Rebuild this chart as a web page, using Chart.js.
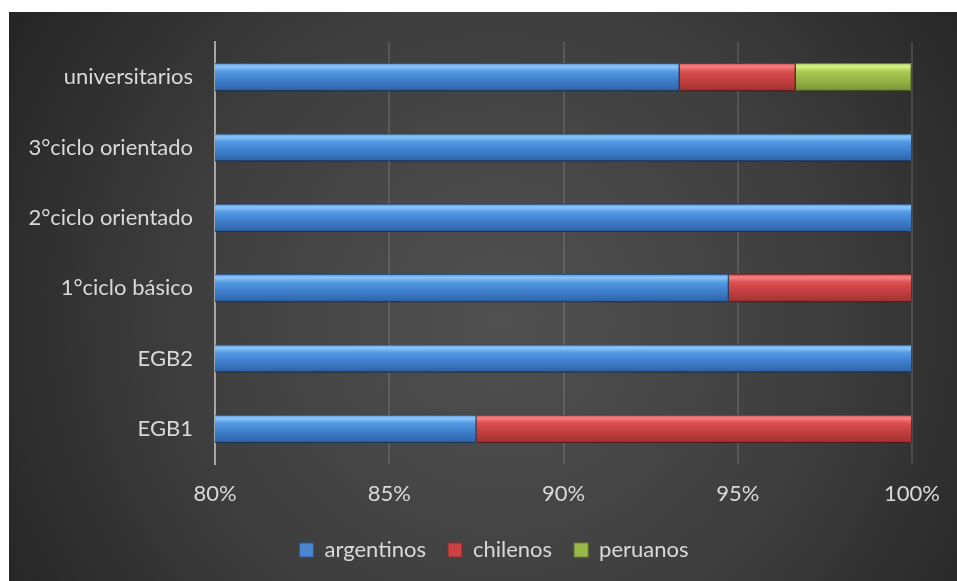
<!DOCTYPE html>
<html>
<head>
<meta charset="utf-8">
<script src="https://cdn.jsdelivr.net/npm/chart.js@4/dist/chart.umd.min.js"></script>
<style>
  html, body { margin: 0; padding: 0; background: #fff; }
  #wrap { width: 957px; height: 581px; }
</style>
</head>
<body>
<div id="wrap"><canvas id="chart" width="957" height="581"></canvas></div>
<script>
// data (percent of each level)
const categories = ["universitarios", "3°ciclo orientado", "2°ciclo orientado", "1°ciclo básico", "EGB2", "EGB1"];
const argentinos = [93.33, 100, 100, 94.74, 100, 87.5];
const chilenos = [3.33, 0, 0, 5.26, 0, 12.5];
const peruanos = [3.33, 0, 0, 0, 0, 0];
const xTicks = [80, 85, 90, 95, 100];

const FONT = "Lato, 'Noto Sans', sans-serif";
const TEXT = "#d9d9d9";

// top-to-bottom stops for the bevelled bars
const palettes = {
  blue:  { solid: "#4a86d0", border: "#2a5794", stops: ["#5294dc", "#8cc6f8", "#5399e4", "#3f7fcc", "#3169b0", "#2a5794"] },
  red:   { solid: "#c94141", border: "#8f2b2b", stops: ["#d65050", "#f28282", "#dd4f4f", "#c43f3f", "#aa3535", "#8f2b2b"] },
  green: { solid: "#98b849", border: "#6b8530", stops: ["#a9c95a", "#d8f286", "#a8c952", "#95b646", "#7f9c3b", "#6b8530"] }
};
const stopPos = [0, 0.12, 0.3, 0.6, 0.9, 1];

function barFill(pal) {
  return function (ctx) {
    const chart = ctx.chart;
    const y = chart.scales && chart.scales.y;
    if (!y || ctx.type !== "data") return pal.solid;
    const c = y.getPixelForValue(ctx.dataIndex);
    const half = 14;
    const g = chart.ctx.createLinearGradient(0, c - half, 0, c + half);
    pal.stops.forEach((col, i) => g.addColorStop(stopPos[i], col));
    return g;
  };
}

const background = {
  id: "background",
  beforeDraw(chart) {
    const ctx = chart.ctx;
    ctx.save();
    ctx.fillStyle = "#ffffff";
    ctx.fillRect(0, 0, chart.width, chart.height);
    const g = ctx.createRadialGradient(500, 320, 0, 500, 320, 600);
    g.addColorStop(0, "#515151");
    g.addColorStop(0.55, "#3d3d3d");
    g.addColorStop(1, "#222222");
    ctx.fillStyle = g;
    ctx.fillRect(9, 12, chart.width - 9, chart.height - 12);
    ctx.restore();
  }
};

const barShadow = {
  id: "barShadow",
  beforeDatasetsDraw(chart) {
    const ctx = chart.ctx;
    ctx.save();
    ctx.shadowColor = "rgba(0,0,0,0.55)";
    ctx.shadowBlur = 5;
    ctx.shadowOffsetY = 3;
  },
  afterDatasetsDraw(chart) {
    chart.ctx.restore();
  }
};

// the legend sits a bit right of the full-width centre in the original
const legendShift = {
  id: "legendShift",
  afterLayout(chart) {
    if (chart.legend) chart.legend.left += 66;
  }
};

function makeSet(label, data, pal) {
  return {
    label: label,
    data: data,
    backgroundColor: barFill(pal),
    borderColor: pal.border,
    borderWidth: 1,
    barPercentage: 0.4,
    categoryPercentage: 1.0,
    solid: pal.solid
  };
}

new Chart(document.getElementById("chart"), {
  type: "bar",
  data: {
    labels: categories,
    datasets: [
      makeSet("argentinos", argentinos, palettes.blue),
      makeSet("chilenos", chilenos, palettes.red),
      makeSet("peruanos", peruanos, palettes.green)
    ]
  },
  options: {
    indexAxis: "y",
    responsive: false,
    animation: false,
    layout: { padding: { top: 42, left: 9, right: 44, bottom: 10 } },
    plugins: {
      tooltip: { enabled: false },
      legend: {
        position: "bottom",
        labels: {
          color: TEXT,
          font: { family: FONT, size: 22 },
          boxWidth: 14,
          boxHeight: 14,
          padding: 22,
          generateLabels(chart) {
            return chart.data.datasets.map((ds, i) => ({
              text: ds.label,
              fillStyle: ds.solid,
              strokeStyle: ds.borderColor,
              lineWidth: 1,
              fontColor: TEXT,
              hidden: !chart.isDatasetVisible(i),
              datasetIndex: i
            }));
          }
        }
      }
    },
    scales: {
      x: {
        stacked: true,
        min: 80,
        max: 100,
        afterBuildTicks(scale) {
          scale.ticks = xTicks.map(v => ({ value: v }));
        },
        afterFit(scale) { scale.height = 53; },
        ticks: {
          color: TEXT,
          font: { family: FONT, size: 22 },
          padding: 17,
          callback: v => v + "%"
        },
        grid: { color: "rgba(255,255,255,0.12)", lineWidth: 2, drawTicks: false },
        border: { display: false }
      },
      y: {
        stacked: true,
        afterFit(scale) { scale.width = 206; },
        ticks: {
          color: TEXT,
          font: { family: FONT, size: 22 },
          padding: 22
        },
        grid: { display: false, drawTicks: false },
        border: { color: "#a6a6a6", width: 2 }
      }
    }
  },
  plugins: [background, barShadow, legendShift]
});
</script>
</body>
</html>
